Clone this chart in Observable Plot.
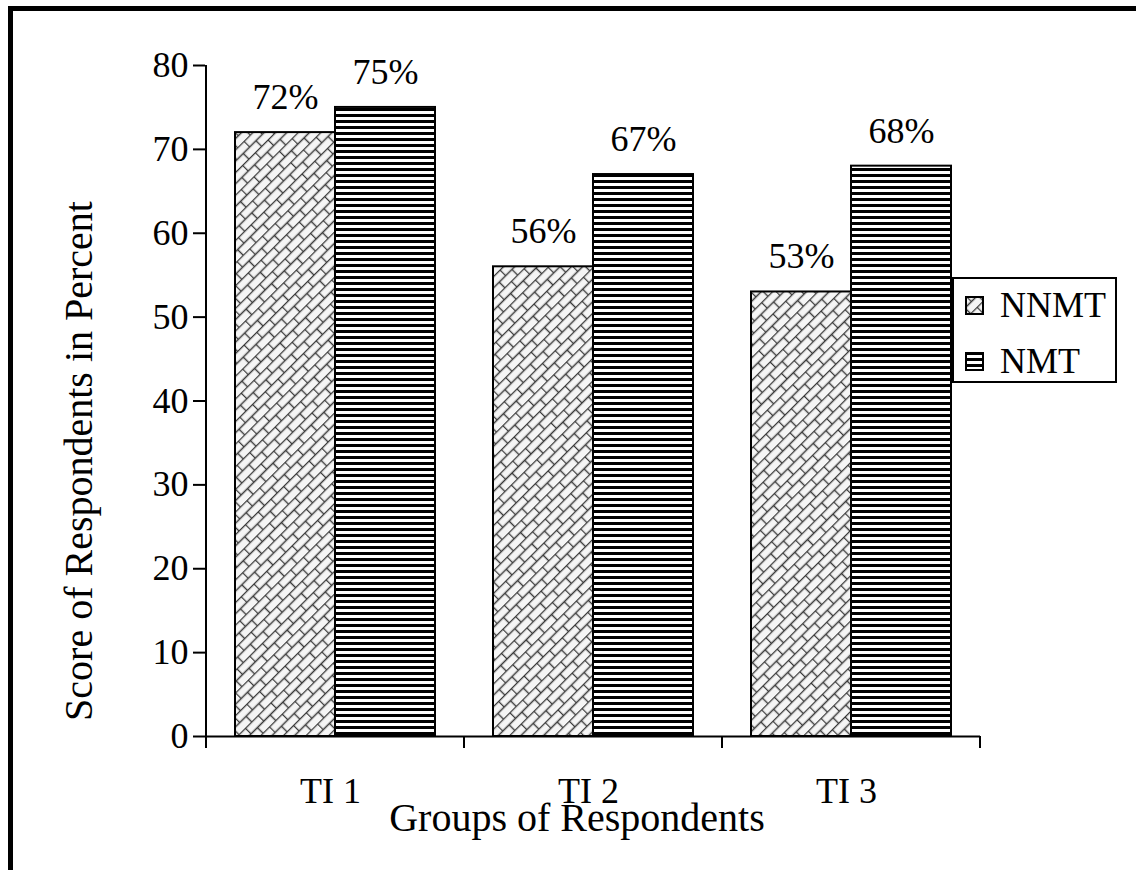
<!DOCTYPE html>
<html>
<head>
<meta charset="utf-8">
<script src="https://cdn.jsdelivr.net/npm/d3@7"></script>
<script src="https://cdn.jsdelivr.net/npm/@observablehq/plot@0.6"></script>
<style>
  html, body { margin: 0; padding: 0; background: #fff; overflow: hidden; }
  #wrap { position: relative; width: 1136px; height: 870px; }
  #border { position: absolute; left: 8px; top: 6px; width: 2000px; height: 2000px;
            border-top: 5px solid #000; border-left: 5px solid #000; box-sizing: border-box; pointer-events: none; }
  #chart { position: absolute; left: 0; top: 0; }
  #legend { position: absolute; left: 952px; top: 277px; width: 165px; height: 106px; box-sizing: border-box;
            border: 2px solid #000; background: #fff; font-family: "Liberation Serif", "Times New Roman", serif; font-size: 36px; color: #000; }
  .item { position: absolute; left: 11px; height: 40px; display: flex; align-items: center; line-height: 1; }
  .item svg { margin-right: 16px; }
</style>
</head>
<body>
<div id="wrap">
  <div id="chart"></div>
  <div id="border"></div>
  <div id="legend"></div>
</div>
<script>
const groups = ["TI 1", "TI 2", "TI 3"];
const seriesNames = ["NNMT", "NMT"];
const nnmtValues = [72, 56, 53];
const nmtValues = [75, 67, 68];
const yTicks = [0, 10, 20, 30, 40, 50, 60, 70, 80];
const yLabel = "Score of Respondents in Percent";
const xLabel = "Groups of Respondents";

const nnmtData = groups.map((g, i) => ({group: g, series: seriesNames[0], value: nnmtValues[i]}));
const nmtData = groups.map((g, i) => ({group: g, series: seriesNames[1], value: nmtValues[i]}));

const FONT = "'Liberation Serif', 'Times New Roman', serif";

const chart = Plot.plot({
  width: 1136, height: 870,
  marginLeft: 205, marginRight: 156, marginTop: 65, marginBottom: 134,
  style: {fontFamily: FONT, background: "transparent", color: "#000"},
  x: {domain: groups, padding: 0, axis: null},
  y: {domain: [0, 80], axis: null},
  marks: [
    Plot.barY(nnmtData, {x: "group", y: "value", fill: "url(#brick)", stroke: "#000", strokeWidth: 2, insetLeft: 29, insetRight: 129}),
    Plot.barY(nmtData, {x: "group", y: "value", fill: "url(#stripes)", stroke: "#000", strokeWidth: 2, insetLeft: 129, insetRight: 29}),
    Plot.text(nnmtData, {x: "group", y: "value", text: d => d.value + "%", dx: -50, dy: -35, fontSize: 36, lineAnchor: "middle"}),
    Plot.text(nmtData, {x: "group", y: "value", text: d => d.value + "%", dx: 50, dy: -35, fontSize: 36, lineAnchor: "middle"}),
    Plot.axisY({ticks: yTicks, tickSize: 12, tickPadding: 5, fontSize: 36, label: null, strokeWidth: 2, tickFormat: d => String(d)}),
    Plot.axisX({tickSize: 0, tickPadding: 41, dx: -5, fontSize: 36, label: null}),
    Plot.ruleY([0], {strokeWidth: 2}),
    Plot.text([yLabel], {text: d => d, frameAnchor: "left", textAnchor: "middle", rotate: -90, dx: -126, dy: 60, fontSize: 40, lineAnchor: "middle"}),
    Plot.text([xLabel], {text: d => d, frameAnchor: "bottom", textAnchor: "middle", dx: -16, dy: 82, fontSize: 40, lineAnchor: "middle"})
  ]
});

// Pattern definitions
const svgSel = d3.select(chart);
const defs = svgSel.insert("defs", ":first-child");
const brick = defs.append("pattern").attr("id", "brick").attr("patternUnits", "userSpaceOnUse")
  .attr("width", 18).attr("height", 16).attr("patternTransform", "rotate(-45)");
brick.append("rect").attr("width", 18).attr("height", 16).attr("fill", "#f5f5f5");
brick.append("path").attr("d", "M0,0.5H18M0,8.5H18M0.5,0V8.5M9.5,8.5V16")
  .attr("stroke", "#3a3a3a").attr("stroke-width", 1.4).attr("fill", "none");
const stripes = defs.append("pattern").attr("id", "stripes").attr("patternUnits", "userSpaceOnUse")
  .attr("width", 6).attr("height", 6);
stripes.append("rect").attr("width", 6).attr("height", 6).attr("fill", "#fff");
stripes.append("rect").attr("width", 6).attr("height", 3).attr("fill", "#000");

// Axis lines and category boundary ticks through Plot's scales
const xs = chart.scale("x");
const ys = chart.scale("y");
const bounds = groups.map(g => xs.apply(g)).concat([xs.apply(groups[groups.length - 1]) + xs.bandwidth]);
const y0 = ys.apply(0), yTop = ys.apply(80);
const g = svgSel.append("g").attr("stroke", "#000").attr("stroke-width", 2);
g.append("line").attr("x1", bounds[0]).attr("x2", bounds[0]).attr("y1", yTop).attr("y2", y0);
bounds.forEach(b => g.append("line").attr("x1", b).attr("x2", b).attr("y1", y0).attr("y2", y0 + 12));

document.getElementById("chart").appendChild(chart);

// Legend
const legend = document.getElementById("legend");
const fills = {NNMT: "url(#brick)", NMT: "url(#stripes)"};
const tops = [6, 62];
seriesNames.forEach((name, i) => {
  const item = document.createElement("div");
  item.className = "item";
  item.style.top = tops[i] + "px";
  item.innerHTML = `<svg width="19" height="19"><rect x="1" y="1" width="17" height="17" fill="${fills[name]}" stroke="#000" stroke-width="2"/></svg><span>${name}</span>`;
  legend.appendChild(item);
});
</script>
</body>
</html>
